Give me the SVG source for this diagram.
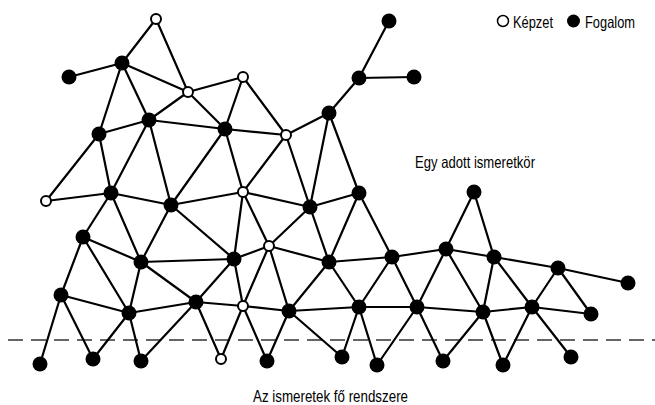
<svg xmlns="http://www.w3.org/2000/svg" width="655" height="405" viewBox="0 0 655 405">
  <style>
    .edge { stroke: #000; stroke-width: 2.2; stroke-linecap: round; }
    .fog { fill: #000; }
    .kep { fill: #fff; stroke: #000; stroke-width: 2; }
    .lbl { font-family: "Liberation Sans Narrow", "Liberation Sans", Arial, sans-serif; font-size: 16.5px; fill: #000; }
    .base { stroke: #333; stroke-width: 1.5; stroke-dasharray: 15 8; fill: none; }
  </style>
  <rect width="655" height="405" fill="#fff"/>

  <!-- dividing line of the main system -->
  <line class="base" x1="8" y1="340" x2="655" y2="340"/>

  <!-- connectors -->
  <g id="connectors" class="edge">
    <line x1="156" y1="19" x2="122" y2="63"/>
    <line x1="156" y1="19" x2="188" y2="92"/>
    <line x1="69" y1="77" x2="122" y2="63"/>
    <line x1="122" y1="63" x2="188" y2="92"/>
    <line x1="122" y1="63" x2="99" y2="134"/>
    <line x1="122" y1="63" x2="149" y2="120"/>
    <line x1="188" y1="92" x2="149" y2="120"/>
    <line x1="188" y1="92" x2="243" y2="77"/>
    <line x1="188" y1="92" x2="225" y2="129"/>
    <line x1="243" y1="77" x2="225" y2="129"/>
    <line x1="243" y1="77" x2="286" y2="135"/>
    <line x1="99" y1="134" x2="149" y2="120"/>
    <line x1="149" y1="120" x2="225" y2="129"/>
    <line x1="225" y1="129" x2="286" y2="135"/>
    <line x1="286" y1="135" x2="329" y2="113"/>
    <line x1="99" y1="134" x2="46" y2="201"/>
    <line x1="99" y1="134" x2="111" y2="193"/>
    <line x1="149" y1="120" x2="111" y2="193"/>
    <line x1="149" y1="120" x2="171" y2="205"/>
    <line x1="225" y1="129" x2="171" y2="205"/>
    <line x1="225" y1="129" x2="243" y2="192"/>
    <line x1="286" y1="135" x2="243" y2="192"/>
    <line x1="286" y1="135" x2="310" y2="207"/>
    <line x1="329" y1="113" x2="310" y2="207"/>
    <line x1="329" y1="113" x2="359" y2="193"/>
    <line x1="329" y1="113" x2="359" y2="78"/>
    <line x1="359" y1="78" x2="389" y2="21"/>
    <line x1="359" y1="78" x2="414" y2="77"/>
    <line x1="46" y1="201" x2="111" y2="193"/>
    <line x1="111" y1="193" x2="171" y2="205"/>
    <line x1="171" y1="205" x2="243" y2="192"/>
    <line x1="243" y1="192" x2="310" y2="207"/>
    <line x1="310" y1="207" x2="359" y2="193"/>
    <line x1="111" y1="193" x2="83" y2="237"/>
    <line x1="111" y1="193" x2="141" y2="262"/>
    <line x1="171" y1="205" x2="141" y2="262"/>
    <line x1="171" y1="205" x2="234" y2="259"/>
    <line x1="243" y1="192" x2="234" y2="259"/>
    <line x1="243" y1="192" x2="269" y2="246"/>
    <line x1="310" y1="207" x2="269" y2="246"/>
    <line x1="310" y1="207" x2="329" y2="262"/>
    <line x1="83" y1="237" x2="141" y2="262"/>
    <line x1="83" y1="237" x2="61" y2="295"/>
    <line x1="83" y1="237" x2="129" y2="313"/>
    <line x1="141" y1="262" x2="234" y2="259"/>
    <line x1="141" y1="262" x2="129" y2="313"/>
    <line x1="141" y1="262" x2="196" y2="302"/>
    <line x1="234" y1="259" x2="196" y2="302"/>
    <line x1="234" y1="259" x2="243" y2="306"/>
    <line x1="234" y1="259" x2="269" y2="246"/>
    <line x1="269" y1="246" x2="243" y2="306"/>
    <line x1="269" y1="246" x2="289" y2="311"/>
    <line x1="269" y1="246" x2="329" y2="262"/>
    <line x1="61" y1="295" x2="129" y2="313"/>
    <line x1="61" y1="295" x2="40" y2="364"/>
    <line x1="61" y1="295" x2="93" y2="359"/>
    <line x1="129" y1="313" x2="196" y2="302"/>
    <line x1="129" y1="313" x2="93" y2="359"/>
    <line x1="129" y1="313" x2="141" y2="361"/>
    <line x1="196" y1="302" x2="141" y2="361"/>
    <line x1="196" y1="302" x2="221" y2="359"/>
    <line x1="196" y1="302" x2="243" y2="306"/>
    <line x1="243" y1="306" x2="221" y2="359"/>
    <line x1="243" y1="306" x2="267" y2="361"/>
    <line x1="243" y1="306" x2="289" y2="311"/>
    <line x1="289" y1="311" x2="267" y2="361"/>
    <line x1="289" y1="311" x2="342" y2="357"/>
    <line x1="289" y1="311" x2="359" y2="307"/>
    <line x1="329" y1="262" x2="289" y2="311"/>
    <line x1="329" y1="262" x2="359" y2="193"/>
    <line x1="329" y1="262" x2="392" y2="257"/>
    <line x1="329" y1="262" x2="359" y2="307"/>
    <line x1="359" y1="193" x2="392" y2="257"/>
    <line x1="392" y1="257" x2="446" y2="249"/>
    <line x1="392" y1="257" x2="359" y2="307"/>
    <line x1="392" y1="257" x2="417" y2="307"/>
    <line x1="446" y1="249" x2="474" y2="192"/>
    <line x1="446" y1="249" x2="417" y2="307"/>
    <line x1="446" y1="249" x2="494" y2="257"/>
    <line x1="446" y1="249" x2="483" y2="312"/>
    <line x1="474" y1="192" x2="494" y2="257"/>
    <line x1="494" y1="257" x2="483" y2="312"/>
    <line x1="494" y1="257" x2="532" y2="307"/>
    <line x1="494" y1="257" x2="558" y2="268"/>
    <line x1="558" y1="268" x2="532" y2="307"/>
    <line x1="558" y1="268" x2="591" y2="314"/>
    <line x1="558" y1="268" x2="628" y2="283"/>
    <line x1="359" y1="307" x2="417" y2="307"/>
    <line x1="359" y1="307" x2="342" y2="357"/>
    <line x1="359" y1="307" x2="377" y2="365"/>
    <line x1="417" y1="307" x2="377" y2="365"/>
    <line x1="417" y1="307" x2="443" y2="361"/>
    <line x1="417" y1="307" x2="483" y2="312"/>
    <line x1="483" y1="312" x2="443" y2="361"/>
    <line x1="483" y1="312" x2="503" y2="365"/>
    <line x1="483" y1="312" x2="532" y2="307"/>
    <line x1="532" y1="307" x2="503" y2="365"/>
    <line x1="532" y1="307" x2="571" y2="357"/>
    <line x1="532" y1="307" x2="591" y2="314"/>
  </g>

  <!-- nodes: filled = Fogalom, hollow = Képzet -->
  <g id="nodes">
    <g id="nA"><circle class="kep" cx="156" cy="19" r="5"/></g>
    <g id="nB"><circle class="fog" cx="122" cy="63" r="7.5"/></g>
    <g id="nC"><circle class="fog" cx="69" cy="77" r="7.5"/></g>
    <g id="nD"><circle class="kep" cx="188" cy="92" r="5"/></g>
    <g id="nE"><circle class="kep" cx="243" cy="77" r="5"/></g>
    <g id="nF"><circle class="fog" cx="99" cy="134" r="7.5"/></g>
    <g id="nG"><circle class="fog" cx="149" cy="120" r="7.5"/></g>
    <g id="nH"><circle class="fog" cx="225" cy="129" r="7.5"/></g>
    <g id="nI"><circle class="kep" cx="286" cy="135" r="5"/></g>
    <g id="nJ"><circle class="fog" cx="329" cy="113" r="7.5"/></g>
    <g id="nP"><circle class="fog" cx="389" cy="21" r="7.5"/></g>
    <g id="nQ"><circle class="fog" cx="359" cy="78" r="7.5"/></g>
    <g id="nR"><circle class="fog" cx="414" cy="77" r="7.5"/></g>
    <g id="nK"><circle class="kep" cx="46" cy="201" r="5"/></g>
    <g id="nL"><circle class="fog" cx="111" cy="193" r="7.5"/></g>
    <g id="nM"><circle class="fog" cx="171" cy="205" r="7.5"/></g>
    <g id="nN"><circle class="kep" cx="243" cy="192" r="5"/></g>
    <g id="nO"><circle class="fog" cx="310" cy="207" r="7.5"/></g>
    <g id="nS"><circle class="fog" cx="359" cy="193" r="7.5"/></g>
    <g id="nT"><circle class="fog" cx="474" cy="192" r="7.5"/></g>
    <g id="nU"><circle class="fog" cx="83" cy="237" r="7.5"/></g>
    <g id="nV"><circle class="fog" cx="141" cy="262" r="7.5"/></g>
    <g id="nW"><circle class="fog" cx="234" cy="259" r="7.5"/></g>
    <g id="nX"><circle class="kep" cx="269" cy="246" r="5"/></g>
    <g id="nY"><circle class="fog" cx="329" cy="262" r="7.5"/></g>
    <g id="nk"><circle class="fog" cx="392" cy="257" r="7.5"/></g>
    <g id="nl"><circle class="fog" cx="446" cy="249" r="7.5"/></g>
    <g id="nm"><circle class="fog" cx="494" cy="257" r="7.5"/></g>
    <g id="nn"><circle class="fog" cx="558" cy="268" r="7.5"/></g>
    <g id="no"><circle class="fog" cx="628" cy="283" r="7.5"/></g>
    <g id="nZ"><circle class="fog" cx="61" cy="295" r="7.5"/></g>
    <g id="na"><circle class="fog" cx="129" cy="313" r="7.5"/></g>
    <g id="nb"><circle class="fog" cx="196" cy="302" r="7.5"/></g>
    <g id="nc"><circle class="kep" cx="243" cy="306" r="5"/></g>
    <g id="nd"><circle class="fog" cx="289" cy="311" r="7.5"/></g>
    <g id="np"><circle class="fog" cx="359" cy="307" r="7.5"/></g>
    <g id="nq"><circle class="fog" cx="417" cy="307" r="7.5"/></g>
    <g id="nr"><circle class="fog" cx="483" cy="312" r="7.5"/></g>
    <g id="ns"><circle class="fog" cx="532" cy="307" r="7.5"/></g>
    <g id="nt"><circle class="fog" cx="591" cy="314" r="7.5"/></g>
    <g id="ne"><circle class="fog" cx="40" cy="364" r="7.5"/></g>
    <g id="nf"><circle class="fog" cx="93" cy="359" r="7.5"/></g>
    <g id="ng"><circle class="fog" cx="141" cy="361" r="7.5"/></g>
    <g id="nh"><circle class="kep" cx="221" cy="359" r="5"/></g>
    <g id="ni"><circle class="fog" cx="267" cy="361" r="7.5"/></g>
    <g id="nu"><circle class="fog" cx="342" cy="357" r="7.5"/></g>
    <g id="nv"><circle class="fog" cx="377" cy="365" r="7.5"/></g>
    <g id="nw"><circle class="fog" cx="443" cy="361" r="7.5"/></g>
    <g id="nx"><circle class="fog" cx="503" cy="365" r="7.5"/></g>
    <g id="ny"><circle class="fog" cx="571" cy="357" r="7.5"/></g>
  </g>

  <!-- legend -->
  <g id="legend">
    <circle cx="503" cy="21" r="5.5" fill="#fff" stroke="#000" stroke-width="1.5"/>
    <text class="lbl" x="513" y="27.5" textLength="40" lengthAdjust="spacingAndGlyphs">Képzet</text>
    <circle cx="573.5" cy="21" r="6.5" fill="#000"/>
    <text class="lbl" x="585" y="27.5" textLength="50" lengthAdjust="spacingAndGlyphs">Fogalom</text>
  </g>

  <!-- labels -->
  <text class="lbl" x="415" y="168" textLength="120" lengthAdjust="spacingAndGlyphs">Egy adott ismeretkör</text>
  <text class="lbl" x="253" y="401.5" textLength="155" lengthAdjust="spacingAndGlyphs">Az ismeretek fő rendszere</text>
</svg>
